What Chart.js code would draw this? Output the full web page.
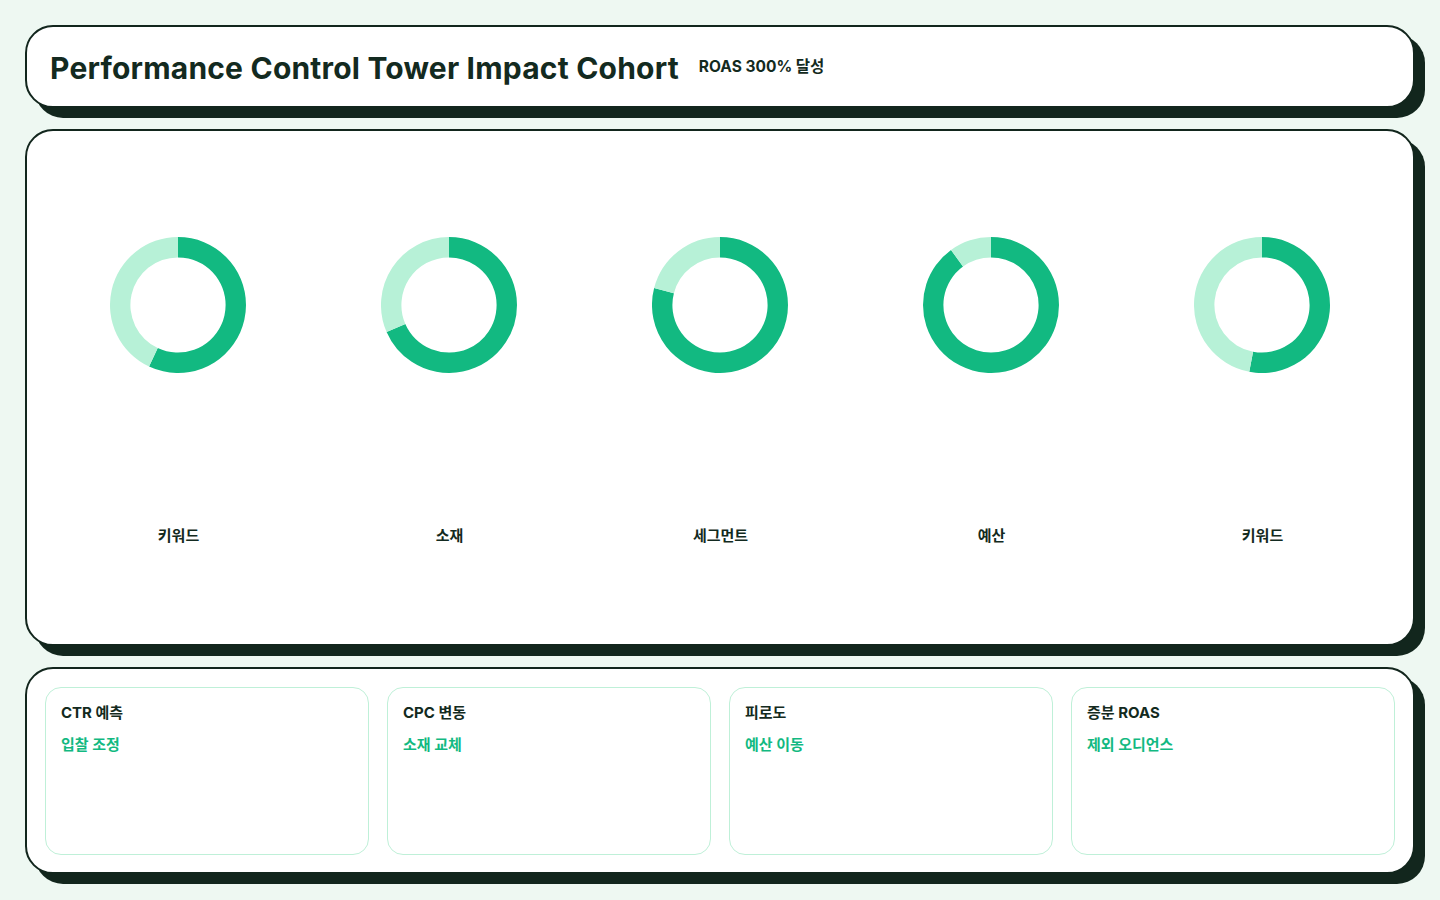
<!DOCTYPE html>
<html lang="ko">
<head>
<meta charset="utf-8">
<script src="https://cdn.jsdelivr.net/npm/chart.js@4.4.1/dist/chart.umd.min.js"></script>
<style>
  * { box-sizing: border-box; margin: 0; padding: 0; }
  body {
    width: 1440px; height: 900px; overflow: hidden;
    background: #eef8f2;
    font-family: Inter, "Noto Sans CJK KR", sans-serif;
    color: #132a20;
  }
  .card {
    position: absolute; left: 25px; width: 1390px;
    background: #fff;
    border: 2px solid #12261d;
    border-radius: 28px;
    box-shadow: 10px 10px 0 #12261d;
  }
  #header { top: 25px; height: 83px; }
  #header .row {
    position: absolute; left: 23px; top: 0; height: 79px;
    display: flex; align-items: center; gap: 20px; white-space: nowrap;
  }
  #header h1 { font-size: 30px; font-weight: 700; letter-spacing: 0.2px; margin-top: 2px; }
  #header .sub { font-size: 15.5px; font-weight: 700; margin-top: -4px; }
  #main { top: 129px; height: 517px; }
  .col { position: absolute; top: 0; width: 271px; height: 513px; }
  .col canvas { position: absolute; left: 67px; top: 106px; }
  .col .lbl {
    position: absolute; left: 0; width: 100%; top: 393px;
    text-align: center; font-size: 15px; font-weight: 700;
  }
  #bottom { top: 667px; height: 207px; }
  .kpi {
    position: absolute; top: 18px; width: 324px; height: 168px;
    border: 1px solid #bff0d8; border-radius: 16px;
  }
  .kpi .t { position: absolute; left: 15px; top: 13px; font-size: 15px; font-weight: 700; }
  .kpi .v { position: absolute; left: 15px; top: 45px; font-size: 15px; font-weight: 700; color: #12b981; }
</style>
</head>
<body>
<div class="card" id="header">
  <div class="row">
    <h1>Performance Control Tower Impact Cohort</h1>
    <div class="sub">ROAS 300% 달성</div>
  </div>
</div>
<div class="card" id="main"></div>
<div class="card" id="bottom"></div>
<script>
var categories = ['키워드', '소재', '세그먼트', '예산', '키워드'];
var achieved = [57, 68.5, 79, 90, 53];
var remaining = [43, 31.5, 21, 10, 47];

var kpiTitles = ['CTR 예측', 'CPC 변동', '피로도', '증분 ROAS'];
var kpiActions = ['입찰 조정', '소재 교체', '예산 이동', '제외 오디언스'];

var main = document.getElementById('main');
categories.forEach(function (name, i) {
  var col = document.createElement('div');
  col.className = 'col';
  col.style.left = (16 + i * 271) + 'px';
  var cv = document.createElement('canvas');
  cv.width = 136; cv.height = 136;
  cv.style.width = '136px'; cv.style.height = '136px';
  col.appendChild(cv);
  var lbl = document.createElement('div');
  lbl.className = 'lbl';
  lbl.textContent = name;
  col.appendChild(lbl);
  main.appendChild(col);

  new Chart(cv.getContext('2d'), {
    type: 'doughnut',
    data: {
      labels: ['달성', '잔여'],
      datasets: [{
        data: [achieved[i], remaining[i]],
        backgroundColor: ['#12b981', '#b7f1d7'],
        borderWidth: 0
      }]
    },
    options: {
      responsive: false,
      animation: false,
      cutout: '70%',
      plugins: { legend: { display: false }, tooltip: { enabled: false } }
    }
  });
});

var bottom = document.getElementById('bottom');
kpiTitles.forEach(function (t, i) {
  var k = document.createElement('div');
  k.className = 'kpi';
  k.style.left = (18 + i * 342) + 'px';
  k.innerHTML = '<div class="t"></div><div class="v"></div>';
  k.querySelector('.t').textContent = t;
  k.querySelector('.v').textContent = kpiActions[i];
  bottom.appendChild(k);
});
</script>
</body>
</html>
